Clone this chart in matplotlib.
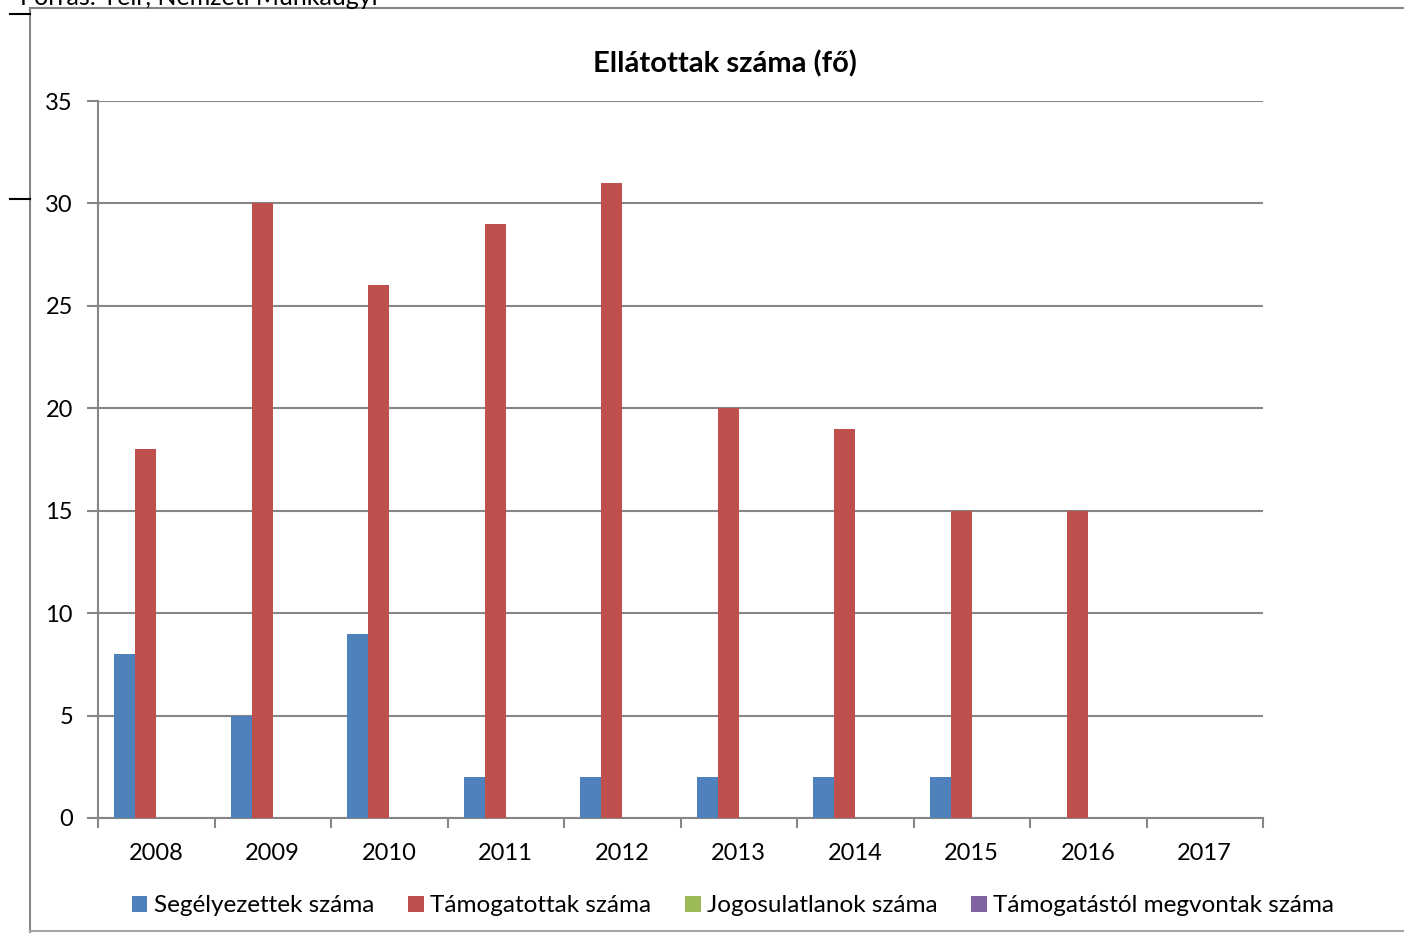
import numpy as np
import matplotlib.pyplot as plt
from matplotlib.lines import Line2D

plt.rcParams['font.family'] = ['Lato', 'DejaVu Sans']

years = ['2008', '2009', '2010', '2011', '2012', '2013', '2014', '2015', '2016', '2017']
segelyezettek = [8, 5, 9, 2, 2, 2, 2, 2, 0, 0]
tamogatottak = [18, 30, 26, 29, 31, 20, 19, 15, 15, 0]
jogosulatlanok = [0, 0, 0, 0, 0, 0, 0, 0, 0, 0]
megvontak = [0, 0, 0, 0, 0, 0, 0, 0, 0, 0]

series = [
    ('Segélyezettek száma', segelyezettek, '#4f81bd'),
    ('Támogatottak száma', tamogatottak, '#c0504d'),
    ('Jogosulatlanok száma', jogosulatlanok, '#9bbb59'),
    ('Támogatástól megvontak száma', megvontak, '#8064a2'),
]

W, H = 1404, 933
fig = plt.figure(figsize=(W / 100, H / 100), dpi=100)
ax = fig.add_axes([98 / W, 1 - 818 / H, (1263 - 98) / W, (818 - 101) / H])

x = np.arange(len(years))
bw = 0.18
for i, (name, vals, col) in enumerate(series):
    ax.bar(x + (i - 1.5) * bw, vals, bw, color=col, label=name, zorder=3)

ax.set_xlim(-0.5, len(years) - 0.5)
ax.set_ylim(0, 35)
ax.set_yticks(range(0, 36, 5))
ax.yaxis.grid(True, color='#868686', linewidth=1.5, zorder=0)
ax.set_xticks(x)
ax.set_xticklabels(years)
ax.set_xticks(np.arange(-0.5, len(years)), minor=True)
ax.tick_params(axis='x', which='major', length=0, pad=18, labelsize=17)
ax.tick_params(axis='x', which='minor', length=7, width=1.5, color='#868686')
ax.tick_params(axis='y', length=8, width=1.5, color='#868686', pad=10, labelsize=17)
for s in ['top', 'right']:
    ax.spines[s].set_visible(False)
for s in ['left', 'bottom']:
    ax.spines[s].set_color('#868686')
    ax.spines[s].set_linewidth(1.5)

fig.text(725 / W, 1 - 64 / H, 'Ellátottak száma (fő)', ha='center', va='center',
         fontsize=21, fontweight='bold')

fig.text(20 / W, 1 - 5 / H, 'Forrás: Teir, Nemzeti Munkaügyi', ha='left',
         va='baseline', fontsize=18)

# chart frame
fig.add_artist(Line2D([30 / W, 30 / W], [0, 1 - 8 / H], transform=fig.transFigure,
                      color='#868686', linewidth=1.5))
fig.add_artist(Line2D([30 / W, 1], [1 - 8 / H, 1 - 8 / H], transform=fig.transFigure,
                      color='#868686', linewidth=1.5))
fig.add_artist(Line2D([30 / W, 1], [1 - 931 / H, 1 - 931 / H], transform=fig.transFigure,
                      color='#a6a6a6', linewidth=1.5))
for yy in [14, 199]:
    fig.add_artist(Line2D([10 / W, 30 / W], [1 - yy / H, 1 - yy / H],
                          transform=fig.transFigure, color='black', linewidth=1.5))

fig.legend(loc='center', bbox_to_anchor=(733 / W, 1 - 906 / H), ncol=4, frameon=False,
           fontsize=17.5, handlelength=0.65, handleheight=0.65, handletextpad=0.25,
           columnspacing=1.4)

fig.savefig('out.png', dpi=100)
